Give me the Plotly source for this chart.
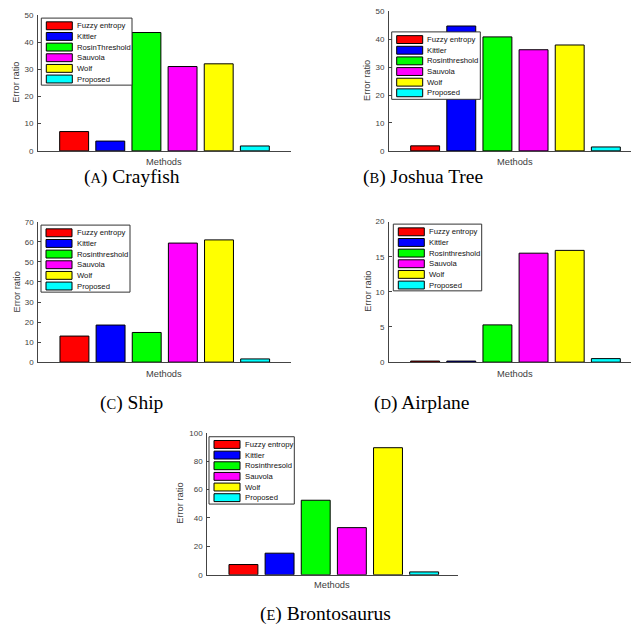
import plotly.graph_objects as go

# ---------------- data ----------------
positions = [1, 2, 3, 4, 5, 6]
colors = ["#FF0000", "#0000FF", "#00FF00", "#FF00FF", "#FFFF00", "#00FFFF"]

labels_a = ["Fuzzy entropy", "Kittler", "RosinThreshold", "Sauvola", "Wolf", "Proposed"]
labels_bcd = ["Fuzzy entropy", "Kittler", "Rosinthreshold", "Sauvola", "Wolf", "Proposed"]
labels_e = ["Fuzzy entropy", "Kittler", "Rosinthresold", "Sauvola", "Wolf", "Proposed"]

crayfish = [7.1, 3.6, 43.5, 31.0, 32.0, 1.8]
joshua_tree = [1.8, 44.7, 40.8, 36.2, 37.9, 1.4]
ship = [13.0, 18.5, 14.8, 59.4, 61.0, 1.6]
airplane = [0.15, 0.15, 5.3, 15.5, 15.9, 0.5]
brontosaurus = [7.2, 15.2, 52.5, 33.2, 89.5, 2.0]

yticks_a = [0, 10, 20, 30, 40, 50]
yticks_b = [0, 10, 20, 30, 40, 50]
yticks_c = [0, 10, 20, 30, 40, 50, 60, 70]
yticks_d = [0, 5, 10, 15, 20]
yticks_e = [0, 20, 40, 60, 80, 100]

captions = [("A", "Crayfish"), ("B", "Joshua Tree"), ("C", "Ship"),
            ("D", "Airplane"), ("E", "Brontosaurus")]
x_title = "Methods"
y_title = "Error ratio"

# ---------------- layout geometry (pixels) ----------------
W, H = 631, 632


def fx(px):
    return px / W


def fy(py):
    return 1 - py / H


PITCH = 36.14  # px per category unit

panels = [
    dict(vals=crayfish, labels=labels_a, ticks=yticks_a,
         rect=(38, 11, 291, 149), legend=(41.3, 14.3, 132, 82.3),
         ylab_x=16, mlab=(164.5, 160), cap=(132, 175)),
    dict(vals=joshua_tree, labels=labels_bcd, ticks=yticks_b,
         rect=(389, 7.3, 631, 149), legend=(391.7, 28.3, 480.3, 96.7),
         ylab_x=367, mlab=(515, 160), cap=(423, 175)),
    dict(vals=ship, labels=labels_bcd, ticks=yticks_c,
         rect=(38.3, 221, 291, 363.3), legend=(41, 224.3, 130, 292.3),
         ylab_x=16.5, mlab=(164.5, 375), cap=(131, 405)),
    dict(vals=airplane, labels=labels_bcd, ticks=yticks_d,
         rect=(389, 220.7, 631, 363.3), legend=(393.3, 223.3, 481.7, 291),
         ylab_x=368, mlab=(515, 375), cap=(422, 405)),
    dict(vals=brontosaurus, labels=labels_e, ticks=yticks_e,
         rect=(207.3, 435, 458.3, 579), legend=(209, 439, 294.3, 507.3),
         ylab_x=180, mlab=(332, 589.5), cap=(325.5, 619)),
]

AX_COLOR = "#444444"
TXT_COLOR = "#404040"
SANS = "Liberation Sans, Arial, Helvetica, sans-serif"
SERIF = "Liberation Serif, Times New Roman, serif"

fig = go.Figure()
shapes = []
annotations = []
layout_axes = {}

for i, p in enumerate(panels, start=1):
    sx = "" if i == 1 else str(i)
    x0, ytop, x1, ybot = p["rect"]
    xmax = (x1 - x0) / PITCH

    fig.add_trace(go.Bar(
        x=positions, y=p["vals"], width=0.8,
        marker=dict(color=colors, line=dict(color="#000000", width=1)),
        showlegend=False, xaxis="x" + sx, yaxis="y" + sx,
        hovertext=p["labels"],
    ))

    layout_axes["xaxis" + sx] = dict(
        domain=[fx(x0), fx(x1)], range=[0, xmax], anchor="y" + sx,
        showticklabels=False, ticks="", showgrid=False, zeroline=False,
        showline=True, linecolor=AX_COLOR, linewidth=1, fixedrange=True,
    )
    layout_axes["yaxis" + sx] = dict(
        domain=[fy(ybot), fy(ytop)], range=[0, p["ticks"][-1]], anchor="x" + sx,
        tickvals=p["ticks"], ticktext=[str(t) for t in p["ticks"]],
        ticks="inside", ticklen=3, tickwidth=1, tickcolor=AX_COLOR,
        showgrid=False, zeroline=False, showline=True, linecolor=AX_COLOR,
        linewidth=1, tickfont=dict(family=SANS, size=8, color=TXT_COLOR),
        ticklabelstandoff=2, fixedrange=True,
    )

    # axis titles
    annotations.append(dict(
        x=fx(p["ylab_x"]), y=fy((ytop + ybot) / 2), xref="paper", yref="paper",
        text=y_title, textangle=-90, showarrow=False, xanchor="center",
        yanchor="middle", font=dict(family=SANS, size=9.3, color=TXT_COLOR)))
    mx, my = p["mlab"]
    annotations.append(dict(
        x=fx(mx), y=fy(my), xref="paper", yref="paper", text=x_title,
        showarrow=False, xanchor="center", yanchor="middle",
        font=dict(family=SANS, size=9.3, color=TXT_COLOR)))

    # legend box (drawn manually to match the compact MATLAB legend)
    lx0, ly0, lx1, ly1 = p["legend"]
    shapes.append(dict(type="rect", xref="paper", yref="paper",
                       x0=fx(lx0), x1=fx(lx1), y0=fy(ly1), y1=fy(ly0),
                       fillcolor="white", line=dict(color="#333333", width=1),
                       layer="above"))
    for k, (lab, col) in enumerate(zip(p["labels"], colors)):
        cy = ly0 + 7.8 + k * 10.8
        shapes.append(dict(type="rect", xref="paper", yref="paper",
                           x0=fx(lx0 + 5), x1=fx(lx0 + 31),
                           y0=fy(cy + 4), y1=fy(cy - 4),
                           fillcolor=col, line=dict(color="#000000", width=1),
                           layer="above"))
        annotations.append(dict(
            x=fx(lx0 + 33.5), y=fy(cy), xref="paper", yref="paper", text=lab,
            showarrow=False, xanchor="left", yanchor="middle",
            font=dict(family=SANS, size=7.7, color="#111111")))

    # caption
    letter, name = captions[i - 1]
    cx, cy = p["cap"]
    annotations.append(dict(
        x=fx(cx), y=fy(cy), xref="paper", yref="paper",
        text=f"(<span style='font-size:14.5px'>{letter}</span>) {name}",
        showarrow=False, xanchor="center", yanchor="middle",
        font=dict(family=SERIF, size=19.5, color="#000000")))

fig.update_layout(
    width=W, height=H, margin=dict(l=0, r=0, t=0, b=0),
    paper_bgcolor="white", plot_bgcolor="white",
    shapes=shapes, annotations=annotations, showlegend=False,
    bargap=0.2,
    **layout_axes,
)

fig.write_html(
    "out.html",
    config={"displayModeBar": False},
    post_script="document.body.style.margin='0';document.body.style.overflow='hidden';",
)
